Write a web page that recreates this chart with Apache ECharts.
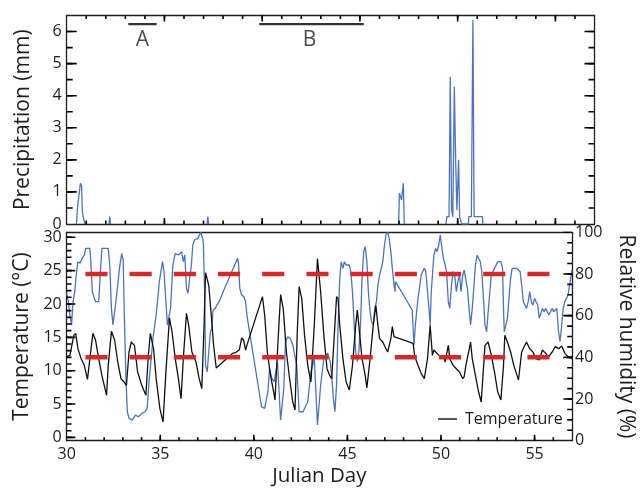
<!DOCTYPE html>
<html><head><meta charset="utf-8">
<script src="https://cdn.jsdelivr.net/npm/echarts@6/dist/echarts.min.js"></script>
<style>html,body{margin:0;padding:0;background:#fff}#c{width:644px;height:489px}</style>
</head><body><div id="c"></div>
<script>
// ---------- data ----------
const xTickLabels = [30, 35, 40, 45, 50, 55];
const precipTickLabels = [0, 1, 2, 3, 4, 5, 6];
const tempTickLabels = [0, 5, 10, 15, 20, 25, 30];
const rhTickLabels = [0, 20, 40, 60, 80, 100];

// [Julian day, precipitation mm]; '-' marks a break between events
const precipitation = [
  [30.50,0],[30.55,0.5],[30.64,0.5],[30.70,1.27],[30.76,1.2],[30.80,0.4],[30.84,0.23],[30.90,0.23],[30.93,0],
  [31.5,'-'],
  [32.16,0],[32.20,0.23],[32.24,0],
  [33,'-'],
  [37.18,0],[37.22,0.23],[37.26,0],
  [40,'-'],
  [46.98,0],[47.02,0.96],[47.08,0.96],[47.13,0.75],[47.22,1.27],[47.27,0],
  [48,'-'],
  [49.40,0],[49.45,0.23],[49.56,0.23],[49.62,4.59],[49.69,0.43],[49.75,0.23],[49.83,4.28],[49.90,1.9],
  [49.96,0.44],[50.05,2.0],[50.10,0.23],[50.18,0.23],[50.20,0],[50.55,0],[50.57,0.23],[50.70,0.23],
  [50.78,6.36],[50.84,0.23],[51.27,0.23],[51.29,0]
];

// [Julian day, temperature °C]
const temperature = [
  [30.00,12.1],[30.17,12.3],[30.38,15.3],[30.48,15.6],[30.60,13.3],[30.77,11.8],[30.94,10.8],[31.11,8.7],
  [31.28,12.8],[31.40,15.6],[31.54,14.6],[31.71,11.8],[31.88,9.3],[32.13,6.3],[32.22,10.8],[32.39,15.9],
  [32.56,14.6],[32.73,11.3],[32.90,8.8],[33.07,8.3],[33.19,7.8],[33.33,12.8],[33.45,14.3],[33.62,13.8],
  [33.79,9.8],[34.01,7.8],[34.23,6.3],[34.35,11.8],[34.47,15.6],[34.64,13.3],[34.78,8.8],[34.98,4.3],
  [35.15,2.3],[35.29,9.3],[35.49,17.9],[35.63,15.8],[35.80,11.8],[35.97,8.8],[36.11,5.8],[36.23,11.8],
  [36.40,18.6],[36.52,16.8],[36.69,12.8],[36.91,11.3],[37.08,8.8],[37.22,7.3],[37.34,16.8],[37.42,24.7],
  [37.59,22.8],[37.71,18.8],[37.85,13.8],[37.99,10.4],[38.87,12.6],[39.01,12.7],[39.22,13.1],[39.35,14.9],
  [39.45,14.6],[39.56,13.1],[39.64,13.9],[40.46,21.1],[40.58,18.3],[40.72,12.8],[40.89,9.3],[41.06,6.8],
  [41.13,5.6],[41.26,12.8],[41.43,21.4],[41.57,19.3],[41.74,12.8],[41.91,8.8],[42.08,5.3],[42.20,4.1],
  [42.32,15.8],[42.42,22.6],[42.56,20.8],[42.71,15.3],[42.88,10.8],[43.05,8.3],[43.23,16.8],[43.40,26.8],
  [43.57,21.8],[43.74,15.3],[43.91,10.3],[44.05,9.3],[44.16,8.8],[44.33,16.8],[44.42,21.1],[44.50,20.8],
  [44.59,16.8],[44.76,11.8],[44.93,8.3],[45.10,7.1],[45.27,10.8],[45.44,16.8],[45.53,19.1],[45.61,16.8],
  [45.78,11.8],[45.95,9.3],[46.04,7.4],[46.21,11.8],[46.38,16.8],[46.52,19.8],[46.63,16.8],[46.72,14.8],
  [46.89,14.3],[47.06,13.3],[47.15,12.8],[47.32,14.8],[47.40,16.6],[47.49,15.1],[47.57,15.1],[48.51,14.1],
  [48.60,12.1],[48.77,10.8],[48.94,9.6],[49.11,8.8],[49.28,11.8],[49.42,16.8],[49.54,12.3],[49.62,13.1],
  [49.79,12.6],[49.96,12.1],[50.13,12.3],[50.22,11.3],[50.39,13.8],[50.47,11.8],[50.65,10.8],[50.82,10.3],
  [50.99,9.8],[51.16,8.8],[51.24,9.1],[51.33,10.8],[51.50,13.1],[51.58,14.3],[51.67,11.8],[51.84,9.3],
  [52.01,6.8],[52.15,5.3],[52.35,13.8],[52.52,14.3],[52.69,12.3],[52.86,9.8],[53.03,6.8],[53.20,5.6],
  [53.34,10.8],[53.41,15.3],[53.55,14.3],[53.72,12.8],[53.89,10.8],[54.06,9.3],[54.14,8.6],[54.31,12.8],
  [54.48,13.8],[54.57,14.3],[54.74,13.3],[54.91,12.8],[55.08,11.8],[55.25,11.6],[55.42,13.1],[55.59,12.6],
  [55.76,12.1],[55.94,12.8],[56.11,13.6],[56.28,13.3],[56.45,13.7],[56.62,12.6],[56.79,12.1],[57.00,11.8]
];

// [Julian day, relative humidity %]
const humidity = [
  [30.00,70.7],[30.09,66.7],[30.17,60.3],[30.26,55.5],[30.34,66.7],[30.43,71.5],[30.51,79.5],[30.60,85.9],
  [30.72,85.1],[30.82,87.5],[30.94,89.1],[31.02,92.3],[31.11,93.1],[31.23,92.3],[31.28,87.5],[31.37,71.5],
  [31.54,66.7],[31.71,66.7],[31.79,79.5],[31.88,92.3],[32.05,92.3],[32.22,92.3],[32.30,84.3],[32.39,63.5],
  [32.47,55.5],[32.65,68.3],[32.82,82.7],[32.94,89.9],[33.02,86.7],[33.07,63.5],[33.16,31.5],[33.24,13.9],
  [33.33,10.7],[33.50,9.9],[33.67,12.3],[33.84,11.5],[34.01,13.1],[34.18,13.9],[34.30,15.5],[34.40,28.3],
  [34.61,49.1],[34.78,60.3],[34.95,76.3],[35.12,85.9],[35.20,81.1],[35.38,55.5],[35.55,63.5],[35.67,84.3],
  [35.80,89.9],[35.97,89.1],[36.14,90.7],[36.23,85.9],[36.31,89.1],[36.40,73.1],[36.48,70.7],[36.66,84.3],
  [36.74,93.9],[36.83,96.3],[37.00,97.1],[37.17,100],[37.25,100],[37.30,95.5],[37.37,71.5],[37.42,36.3],
  [37.51,33.1],[37.59,42.7],[37.68,52.3],[37.76,53.9],[37.82,62.7],[37.94,63.5],[38.02,65.1],[38.19,67.5],
  [38.28,68.3],[38.36,71.5],[39.13,87.5],[39.18,85.1],[39.25,73.1],[39.35,69.9],[39.47,69.1],[39.56,66.7],
  [39.64,59.5],[40.41,16.3],[40.58,15.5],[40.75,23.5],[40.84,34.7],[40.96,29.9],[41.09,28.3],[41.26,37.9],
  [41.43,9.9],[41.60,25.1],[41.69,47.5],[41.81,49.9],[41.95,49.1],[42.08,45.9],[42.29,36.3],[42.42,13.9],
  [42.63,13.9],[42.88,18.7],[43.05,33.1],[43.23,39.5],[43.40,7.5],[43.57,26.7],[43.74,39.5],[43.95,42.0],
  [44.08,37.9],[44.16,31.5],[44.25,20.3],[44.33,13.9],[44.42,26.7],[44.50,55.5],[44.59,77.9],[44.67,85.9],
  [44.76,82.7],[44.84,85.9],[44.93,84.3],[45.01,85.1],[45.10,84.3],[45.18,81.1],[45.27,71.5],[45.36,55.5],
  [45.44,42.7],[45.53,37.9],[45.61,42.7],[45.70,55.5],[45.78,77.9],[45.87,90.7],[45.95,93.1],[46.04,85.9],
  [46.12,71.5],[46.21,61.9],[46.29,57.1],[46.38,55.5],[46.46,63.5],[46.55,66.7],[46.63,74.7],[46.72,79.5],
  [46.81,82.7],[46.89,85.9],[46.98,93.9],[47.06,98.7],[47.15,100],[47.23,97.1],[47.32,90.7],[47.40,82.7],
  [47.49,74.7],[47.54,71.5],[47.57,76.3],[48.46,62.7],[48.51,53.9],[48.56,45.9],[48.63,55.5],[48.77,68.3],
  [48.85,73.1],[48.94,79.5],[49.02,81.1],[49.11,82.7],[49.19,81.1],[49.28,71.5],[49.37,61.9],[49.42,55.5],
  [49.48,71.5],[49.62,89.1],[49.71,92.3],[49.79,90.7],[49.88,93.9],[49.96,98.7],[50.05,92.3],[50.13,87.5],
  [50.22,84.3],[50.30,81.1],[50.39,66.7],[50.47,63.5],[50.56,74.7],[50.65,81.1],[50.73,79.5],[50.82,71.5],
  [50.90,76.3],[50.99,79.5],[51.07,71.5],[51.16,79.5],[51.24,81.9],[51.33,82.7],[51.41,73.1],[51.50,63.5],
  [51.58,55.5],[51.67,63.5],[51.75,73.1],[51.84,84.3],[51.93,89.1],[52.01,87.5],[52.10,85.9],[52.18,81.1],
  [52.27,68.3],[52.35,55.5],[52.44,52.3],[52.52,61.9],[52.61,71.5],[52.69,79.5],[52.86,82.7],[53.03,85.9],
  [53.20,85.9],[53.29,82.7],[53.34,63.5],[53.38,52.3],[53.46,52.3],[53.55,58.7],[53.63,68.3],[53.72,77.9],
  [53.80,82.7],[53.89,82.7],[54.06,82.7],[54.23,81.1],[54.31,74.7],[54.40,66.7],[54.57,63.5],[54.66,66.7],
  [54.74,71.5],[54.83,66.7],[54.91,65.1],[55.00,68.3],[55.08,66.7],[55.17,65.1],[55.25,58.7],[55.42,63.5],
  [55.51,61.9],[55.59,63.5],[55.76,60.3],[55.94,63.5],[56.02,61.9],[56.11,61.9],[56.19,63.5],[56.28,52.3],
  [56.36,47.5],[56.45,55.5],[56.53,63.5],[56.62,66.7],[56.70,68.3],[56.79,69.9],[56.87,74.7],[57.00,82.0]
];

const rhThresholds = [80, 40];          // red dashed reference levels (%)
const thresholdSpan = [31, 57];         // Julian days covered by the dashed lines
const periodA = [33.15, 34.6];          // bar "A" (Julian days)
const periodB = [39.85, 45.2];          // bar "B" (Julian days)
const periodBarLevel = 6.23;            // precipitation-axis level of the bars
const periodLabels = [['A', 33.87], ['B', 42.42]];
const periodLabelLevel = 5.75;

// ---------- chart ----------
const FONT = '"Open Sans", "DejaVu Sans", sans-serif';
const INK = '#1e1e1e';
const BLUE = '#4a74c0';
const RED = '#d42a2a';

const W = 644, LEFT = 66.7, RIGHT = 49.5;
const TOP1 = 15.5, H1 = 208.5, TOP2 = 232.3, H2 = 208.4;
const PLOT_W = W - LEFT - RIGHT;

const X = { min: 30, max: 57 };
const P = { min: 0, max: 6.5 };
const T = { min: -0.5, max: 30.75 };
const R = { min: 0, max: 100 };

function range(a, b, s) { const r = []; for (let v = a; v <= b + 1e-9; v += s) r.push(+v.toFixed(4)); return r; }

function axis(o) {
  const base = {
    type: 'value',
    axisLine: { show: true, onZero: false, lineStyle: { color: INK, width: 1.3 } },
    splitLine: { show: false },
    axisLabel: { show: false },
    axisTick: { show: false }
  };
  return Object.assign({}, base, o);
}
const labelStyle = { show: true, fontFamily: FONT, fontSize: 16, color: INK };
const nameStyle = { fontFamily: FONT, fontSize: 21, color: INK };

const xAxes = [
  axis(Object.assign({ gridIndex: 0, position: 'bottom' }, X)),                 // 0 top panel bottom
  axis(Object.assign({ gridIndex: 0, position: 'top' }, X)),                    // 1 top panel top
  axis(Object.assign({ gridIndex: 1, position: 'bottom', interval: 5,           // 2 bottom panel bottom
    axisLabel: Object.assign({}, labelStyle, { margin: 6, customValues: xTickLabels }),
    name: 'Julian Day', nameLocation: 'middle', nameGap: 25,
    nameTextStyle: Object.assign({}, nameStyle, { fontSize: 20.5 }) }, X)),
  axis(Object.assign({ gridIndex: 1, position: 'top' }, X))                     // 3 bottom panel top
];
const yAxes = [
  axis(Object.assign({ gridIndex: 0, position: 'left', interval: 1,             // 0 precipitation
    axisLabel: Object.assign({}, labelStyle, { margin: 5, customValues: precipTickLabels }),
    name: 'Precipitation (mm)', nameLocation: 'middle', nameGap: 33, nameTextStyle: nameStyle }, P)),
  axis(Object.assign({ gridIndex: 0, position: 'right' }, P)),                  // 1 right frame
  axis(Object.assign({ gridIndex: 1, position: 'left',                          // 2 temperature
    axisLabel: Object.assign({}, labelStyle, { margin: 5, customValues: tempTickLabels }),
    name: 'Temperature (°C)', nameLocation: 'middle', nameGap: 34, nameTextStyle: nameStyle }, T)),
  axis(Object.assign({ gridIndex: 1, position: 'right', interval: 20,           // 3 relative humidity
    axisLabel: Object.assign({}, labelStyle, { margin: 3, customValues: rhTickLabels }),
    name: 'Relative humidity (%)', nameLocation: 'middle', nameGap: 43, nameRotate: -90,
    nameTextStyle: nameStyle }, R))
];

// inward tick marks drawn as short line segments in axis units
// (pixel length converted to data units from the known plot size)
function tickSeries(xi, yi, dir, side, values, lenPx, yRange, hPx) {
  const data = [];
  values.forEach(v => {
    if (dir === 'x') {
      const d = lenPx * (yRange.max - yRange.min) / hPx;
      const y0 = side === 'bottom' ? yRange.min : yRange.max;
      const y1 = side === 'bottom' ? y0 + d : y0 - d;
      data.push([v, y0], [v, y1], [v, '-']);
    } else {
      const d = lenPx * (X.max - X.min) / PLOT_W;
      const x0 = side === 'left' ? X.min : X.max;
      const x1 = side === 'left' ? x0 + d : x0 - d;
      data.push([x0, v], [x1, v], [x0, '-']);
    }
  });
  return {
    type: 'line', xAxisIndex: xi, yAxisIndex: yi, symbol: 'none', showSymbol: false, z: 10,
    connectNulls: false, data: data,
    lineStyle: { color: '#000', width: 1.6 }, itemStyle: { color: '#000' }
  };
}
const xMajor = range(35, 55, 5), xMinor = range(31, 56, 1);
const ticks = [
  tickSeries(0, 0, 'x', 'bottom', xMajor, 6, P, H1), tickSeries(0, 0, 'x', 'bottom', xMinor, 3.5, P, H1),
  tickSeries(0, 0, 'x', 'top', xMajor, 6, P, H1), tickSeries(0, 0, 'x', 'top', xMinor, 3.5, P, H1),
  tickSeries(2, 2, 'x', 'bottom', xMajor, 6, T, H2), tickSeries(2, 2, 'x', 'bottom', xMinor, 3.5, T, H2),
  tickSeries(0, 0, 'y', 'left', range(1, 6, 1), 10), tickSeries(0, 0, 'y', 'left', range(0.5, 6, 0.5), 6),
  tickSeries(0, 0, 'y', 'right', range(1, 6, 1), 10), tickSeries(0, 0, 'y', 'right', range(0.5, 6, 0.5), 6),
  tickSeries(2, 2, 'y', 'left', range(0, 30, 5), 9), tickSeries(2, 2, 'y', 'left', range(0, 30, 1), 5),
  tickSeries(2, 3, 'y', 'right', range(20, 100, 20), 9), tickSeries(2, 3, 'y', 'right', range(5, 95, 5), 5)
];

const thresholdSeries = rhThresholds.map(v => ({
  type: 'line', xAxisIndex: 2, yAxisIndex: 3, silent: true, symbol: 'none', z: 5,
  data: [[thresholdSpan[0], v], [thresholdSpan[1], v]],
  lineStyle: { color: RED, width: 4.5, type: [22.1, 22.1], cap: 'butt' }
}));

const barSeries = [periodA, periodB].map(p => ({
  type: 'line', xAxisIndex: 0, yAxisIndex: 0, silent: true, symbol: 'none',
  data: [[p[0], periodBarLevel], [p[1], periodBarLevel]],
  lineStyle: { color: '#333', width: 2.2 }
}));

const option = {
  animation: false,
  backgroundColor: '#fff',
  textStyle: { fontFamily: FONT },
  grid: [
    { left: LEFT, right: RIGHT, top: TOP1, height: H1, show: false },
    { left: LEFT, right: RIGHT, top: TOP2, height: H2, show: false }
  ],
  legend: {
    data: ['Temperature'], left: 438, top: 409, padding: 0,
    icon: 'rect', itemWidth: 19, itemHeight: 1.4,
    textStyle: { fontFamily: FONT, fontSize: 16, color: INK, lineHeight: 20, padding: [0, 0, 0, 3] }
  },
  xAxis: xAxes,
  yAxis: yAxes,
  series: [
    { name: 'Precipitation', type: 'line', xAxisIndex: 0, yAxisIndex: 0, symbol: 'none', connectNulls: false,
      data: precipitation, lineStyle: { color: BLUE, width: 1.3 }, itemStyle: { color: BLUE } },
    ...barSeries,
    { type: 'scatter', xAxisIndex: 0, yAxisIndex: 0, symbolSize: 0, silent: true,
      data: periodLabels.map(l => ({ value: [l[1], periodLabelLevel], name: l[0] })),
      label: { show: true, formatter: '{b}', position: 'inside', fontFamily: FONT, fontSize: 21, color: INK } },
    { name: 'Relative humidity', type: 'line', xAxisIndex: 2, yAxisIndex: 3, symbol: 'none', z: 2,
      data: humidity, lineStyle: { color: BLUE, width: 1.3 }, itemStyle: { color: BLUE } },
    { name: 'Temperature', type: 'line', xAxisIndex: 2, yAxisIndex: 2, symbol: 'none', z: 3,
      data: temperature, lineStyle: { color: '#111', width: 1.3 }, itemStyle: { color: '#111' } },
    ...thresholdSeries,
    ...ticks
  ]
};

const chart = echarts.init(document.getElementById('c'), null, { renderer: 'canvas' });
chart.setOption(option);
</script></body></html>
